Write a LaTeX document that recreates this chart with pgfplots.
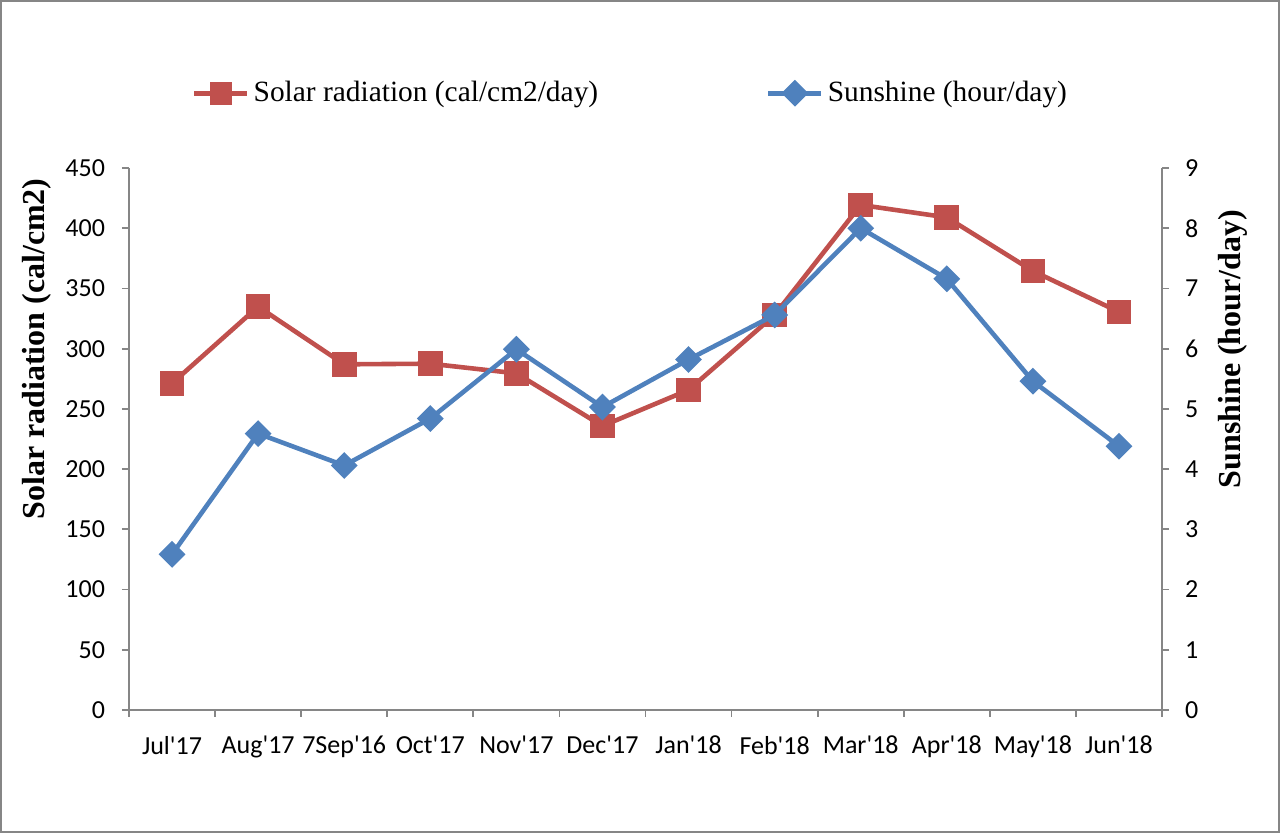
\documentclass[border=0pt]{standalone}
\usepackage{pgfplots}
\pgfplotsset{compat=1.18}
\usepackage{fontspec}
\setmainfont{Liberation Serif}
\newfontfamily\calibri{Carlito}
\definecolor{solred}{RGB}{192,80,77}
\definecolor{sunblue}{RGB}{79,129,189}
\definecolor{axgray}{RGB}{134,134,134}
\begin{document}
\begin{tikzpicture}
\pgfplotsset{
  common/.style={
    scale only axis,
    width=516.5pt, height=271pt,
    at={(64.5pt,61.5pt)}, anchor=south west,
    xmin=-0.5, xmax=11.5,
    axis line style={axgray, line width=0.9pt},
    tick style={axgray, line width=0.9pt},
    major tick length=3.5pt,
    minor tick length=3.5pt,
    tick align=outside,
    /pgf/number format/assume math mode=true,
    ticklabel style={font=\calibri\fontsize{13}{15}\selectfont, text=black},
    ylabel style={font=\bfseries\fontsize{16}{18}\selectfont, anchor=center},
  }
}
\begin{axis}[common,
  axis y line*=left, axis x line*=bottom,
  ymin=0, ymax=450, ytick={0,50,...,450},
  yticklabel style={xshift=-5pt},
  xtick={0,...,11},
  xticklabels={Jul\textquotesingle17, Aug\textquotesingle17, 7Sep\textquotesingle16, Oct\textquotesingle17, Nov\textquotesingle17, Dec\textquotesingle17, Jan\textquotesingle18, Feb\textquotesingle18, Mar\textquotesingle18, Apr\textquotesingle18, May\textquotesingle18, Jun\textquotesingle18},
  major x tick style={draw=none},
  minor xtick={-0.5,0.5,...,11.5},
  xticklabel style={yshift=-6pt},
  ylabel={Solar radiation (cal/cm2)},
  ylabel style={at={(axis description cs:-0.089,0.666)}},
]
\addplot[solred, line width=2.3pt, mark=square*, mark size=5pt, mark options={solid}]
  coordinates {(0,271.2) (1,334.9) (2,287.0) (3,287.5) (4,279.5) (5,235.8) (6,265.7) (7,328.0) (8,419.3) (9,409.0) (10,364.5) (11,330.5)};
\end{axis}
\begin{axis}[common,
  axis y line*=right, axis x line=none,
  ymin=0, ymax=9, ytick={0,1,...,9},
  yticklabel style={xshift=4.5pt},
  ylabel={Sunshine (hour/day)},
  ylabel style={at={(axis description cs:1.0687,0.666)}, rotate=0},
  legend columns=2,
  legend style={draw=none, fill=none, at={(0.4865,1.138)}, anchor=center,
    font=\fontsize{14.7}{17}\selectfont,
    /tikz/every even column/.append style={column sep=82pt},
    legend cell align=left},
  legend image code/.code={
    \draw[#1, mark repeat=2, mark phase=2] plot coordinates {(0pt,0pt) (13.25pt,0pt) (26.5pt,0pt)};},
]
\addlegendimage{solred, line width=2.3pt, mark=square*, mark size=4.5pt, mark options={solid}}
\addlegendentry{Solar radiation (cal/cm2/day)}
\addplot[sunblue, line width=2.3pt, mark=square*, mark size=3.6pt, mark options={solid, rotate=45}]
  coordinates {(0,2.585) (1,4.59) (2,4.06) (3,4.84) (4,5.99) (5,5.03) (6,5.82) (7,6.56) (8,8.0) (9,7.16) (10,5.46) (11,4.38)};
\addlegendentry{Sunshine (hour/day)}
\end{axis}
\draw[axgray, line width=1.2pt] (0.6pt,0.6pt) rectangle (639.4pt,415.9pt);
\pgfresetboundingbox
\path[use as bounding box] (0,0) rectangle (640pt,416.5pt);
\end{tikzpicture}
\end{document}
